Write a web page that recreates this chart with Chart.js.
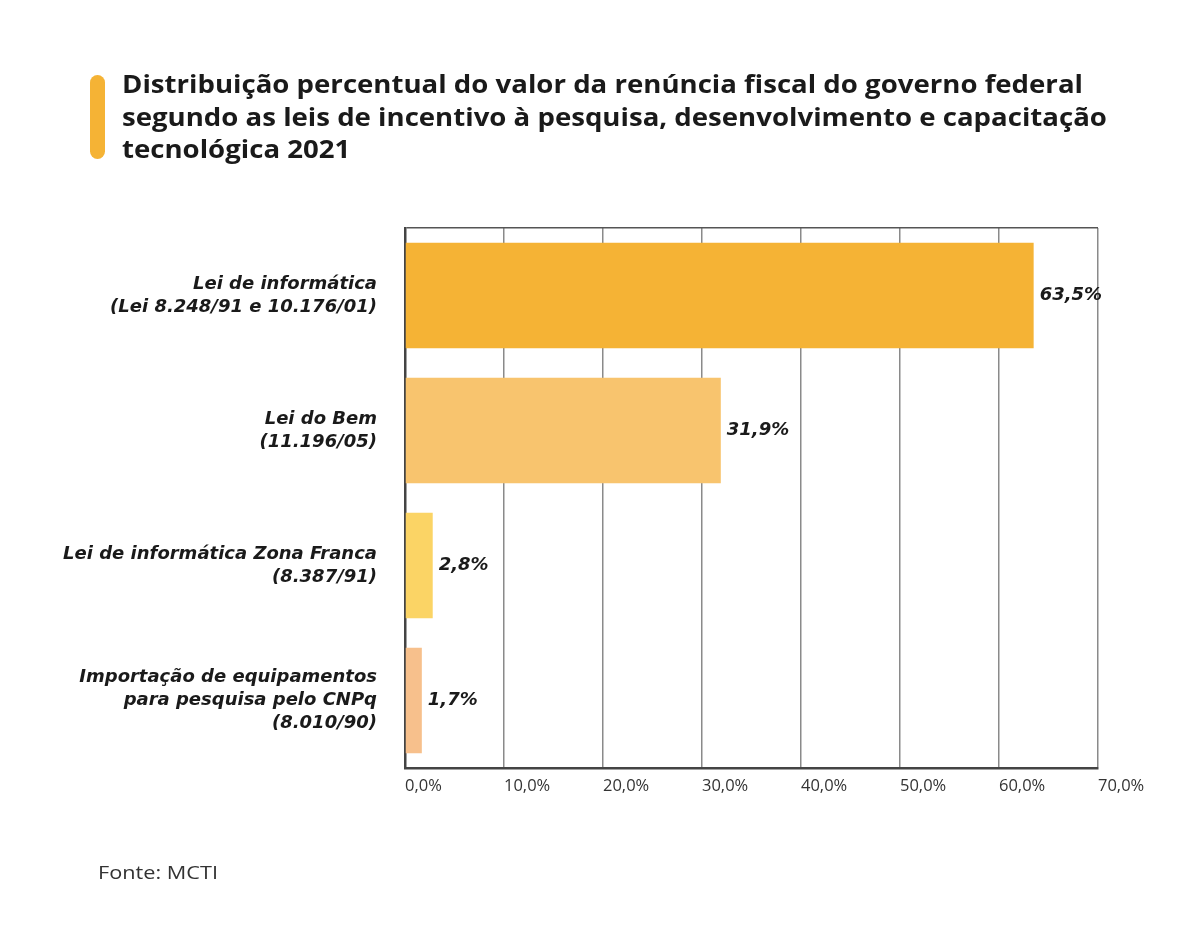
<!DOCTYPE html>
<html>
<head>
<meta charset="utf-8">
<script src="https://cdn.jsdelivr.net/npm/chart.js@4"></script>
<style>
  body { margin: 0; background: #fff; font-family: "Open Sans", sans-serif; }
  #wrap { position: relative; width: 1200px; height: 925px; }
  #barCanvas { position: absolute; left: 0; top: 0; }
  .title-mark { position: absolute; left: 90px; top: 75px; width: 15px; height: 84px; background: #F5B335; border-radius: 8px; }
  .title { position: absolute; left: 122px; top: 67px; font-weight: 700; font-size: 25px; line-height: 32.5px; color: #1a1a1a; transform-origin: 0 0; white-space: nowrap; }
  .source { position: absolute; left: 98px; top: 859px; font-size: 19px; color: #333; transform-origin: 0 0; white-space: nowrap; }
</style>
</head>
<body>
<div id="wrap">
  <canvas id="barCanvas" width="1200" height="925"></canvas>
  <div class="title-mark"></div>
  <div class="title" id="title"><span id="t1">Distribuição percentual do valor da renúncia fiscal do governo federal</span><br>segundo as leis de incentivo à pesquisa, desenvolvimento e capacitação<br>tecnológica 2021</div>
  <div class="source" id="source"><span id="s1">Fonte: MCTI</span></div>
</div>
<script>
const categories = [
  ["Lei de informática", "(Lei 8.248/91 e 10.176/01)"],
  ["Lei do Bem", "(11.196/05)"],
  ["Lei de informática Zona Franca", "(8.387/91)"],
  ["Importação de equipamentos", "para pesquisa pelo CNPq", "(8.010/90)"]
];
const shares = [63.5, 31.9, 2.8, 1.7];
const barColors = ["#F5B335", "#F8C46E", "#FBD465", "#F7C08C"];
const tickValues = [0, 10, 20, 30, 40, 50, 60, 70];

const fmt = v => v.toFixed(1).replace(".", ",") + "%";

// stretch the html text a bit so it is as wide as in the original
function fitWidth(boxId, spanId, target) {
  const w = document.getElementById(spanId).getBoundingClientRect().width;
  document.getElementById(boxId).style.transform = "scaleX(" + (target / w) + ")";
}
fitWidth("title", "t1", 961);
fitWidth("source", "s1", 120);

// value labels at the end of each bar
const valueLabels = {
  id: "valueLabels",
  afterDatasetsDraw(chart) {
    const ctx = chart.ctx;
    const meta = chart.getDatasetMeta(0);
    ctx.save();
    ctx.font = "italic bold 18px 'DejaVu Sans'";
    ctx.fillStyle = "#1a1a1a";
    ctx.textAlign = "left";
    ctx.textBaseline = "middle";
    meta.data.forEach((bar, i) => {
      ctx.fillText(fmt(shares[i]), bar.x + 6, bar.y);
    });
    ctx.restore();
  }
};

const barCanvas = document.getElementById("barCanvas");

const barChart = new Chart(barCanvas, {
  type: "bar",
  data: {
    labels: categories,
    datasets: [{
      data: shares,
      backgroundColor: barColors,
      barPercentage: 0.78,
      categoryPercentage: 1
    }]
  },
  options: {
    indexAxis: "y",
    responsive: false,
    animation: false,
    layout: { padding: { left: 0, right: 102, top: 228, bottom: 0 } },
    plugins: {
      legend: { display: false },
      tooltip: { enabled: false }
    },
    scales: {
      x: {
        min: 0,
        max: 70,
        afterBuildTicks(scale) {
          scale.ticks = tickValues.map(v => ({ value: v }));
        },
        afterFit(scale) { scale.height = 157; },
        border: { display: true, color: "#444", width: 2.5 },
        grid: { color: "#8a8a8a", lineWidth: 1.5, drawTicks: false },
        ticks: {
          align: "start",
          padding: 8,
          color: "#333",
          font: { family: "Open Sans", size: 16.5 },
          callback: v => fmt(v)
        }
      },
      y: {
        afterFit(scale) { scale.width = 405; },
        border: { display: true, color: "#444", width: 2.5 },
        grid: {
          drawTicks: false,
          lineWidth: 1.5,
          color: c => c.index === 0 ? "#555" : "rgba(0,0,0,0)"
        },
        ticks: {
          padding: 28,
          color: "#1a1a1a",
          font: { family: "DejaVu Sans", size: 18, style: "italic", weight: "bold", lineHeight: 1.28 }
        }
      }
    }
  },
  plugins: [valueLabels]
});
</script>
</body>
</html>
